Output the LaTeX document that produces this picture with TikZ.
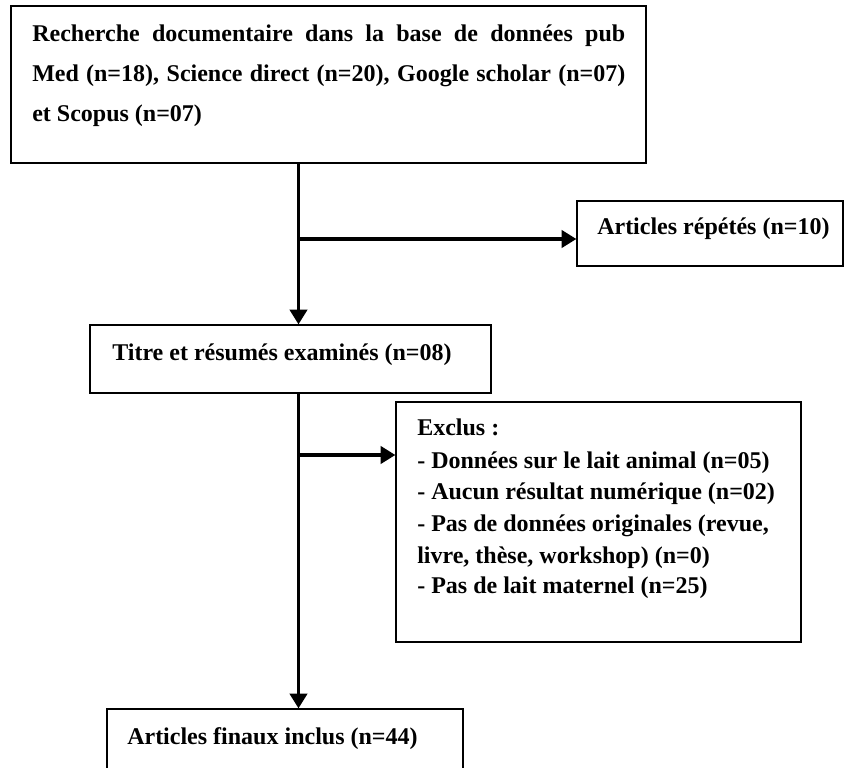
\documentclass[tikz,border=0pt]{standalone}
\usepackage{fontspec}
\setmainfont{Liberation Serif}
\usetikzlibrary{arrows.meta}
\tikzset{
  box/.style={draw=black, line width=1pt, inner sep=0pt, fill=none},
  txt/.style={anchor=base west, inner sep=0pt, font=\fontsize{18pt}{22pt}\selectfont\bfseries},
  conn/.style={line width=2.3pt, -{Triangle[length=11pt,width=13pt]}},
}
\begin{document}
\begin{tikzpicture}[x=0.75pt,y=-0.75pt]
\useasboundingbox (0,0) rectangle (844,768);
% boxes
\node[box, minimum width=476.25pt, minimum height=117.75pt] (b1) at (328.5,84.5) {};
\node[box, minimum width=199.5pt, minimum height=48.75pt] (rep) at (710,233.5) {};
\node[box, minimum width=300.75pt, minimum height=51pt] (b2) at (290.5,359) {};
\node[box, minimum width=303.75pt, minimum height=180pt] (excl) at (598.5,522) {};
\node[box, minimum width=267pt, minimum height=53.25pt] (b3) at (285,744.5) {};
% texts
\node[txt] (t1a) at (32,41) {\makebox[444.75pt][s]{Recherche documentaire dans la base de données pub}};
\node[txt] (t1b) at (32,81) {\makebox[444.75pt][s]{Med (n=18), Science direct (n=20), Google scholar (n=07)}};
\node[txt] (t1c) at (32,121) {et Scopus (n=07)};
\node[txt] (trep) at (597,234) {Articles répétés (n=10)};
\node[txt] (t2) at (112,360) {Titre et résumés examinés (n=08)};
\node[txt] (te0) at (417,435) {Exclus :};
\node[txt] (te1) at (417,468) {- Données sur le lait animal (n=05)};
\node[txt] (te2) at (417,499) {- Aucun résultat numérique (n=02)};
\node[txt] (te3) at (417,531) {- Pas de données originales (revue,};
\node[txt] (te4) at (417,563) {livre, thèse, workshop) (n=0)};
\node[txt] (te5) at (417,593) {- Pas de lait maternel (n=25)};
\node[txt] (t3) at (127,744) {Articles finaux inclus (n=44)};
% connectors
\coordinate (trunk) at (298.5,0);
\coordinate (j1) at (298.5,239);
\coordinate (j2) at (298.5,455);
\draw[conn] (b1.south -| trunk) -- (b2.north -| trunk);
\draw[conn] (j1) -- (j1 -| rep.west);
\draw[conn] (b2.south -| trunk) -- (b3.north -| trunk);
\draw[conn] (j2) -- (j2 -| excl.west);
\end{tikzpicture}
\end{document}
